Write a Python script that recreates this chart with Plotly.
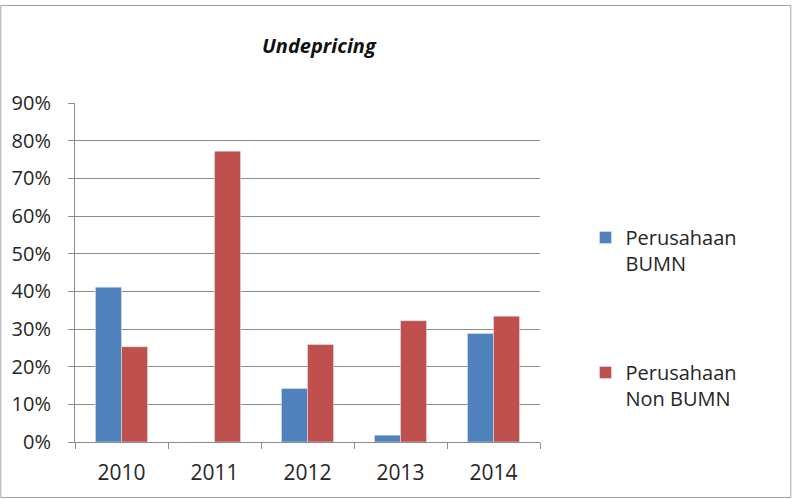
import plotly.graph_objects as go

years = ["2010", "2011", "2012", "2013", "2014"]
bumn = [0.411, 0.0, 0.142, 0.018, 0.288]
non_bumn = [0.253, 0.772, 0.259, 0.322, 0.334]
series_names = ["Perusahaan<br>BUMN", "Perusahaan<br>Non BUMN"]
y_ticks = [0, 0.1, 0.2, 0.3, 0.4, 0.5, 0.6, 0.7, 0.8, 0.9]
y_labels = ["0%", "10%", "20%", "30%", "40%", "50%", "60%", "70%", "80%", "90%"]

W, H = 801, 499
L, R, T, B = 70, 261, 103, 57
pw, ph = W - L - R, H - T - B

fig = go.Figure()
fig.add_trace(go.Bar(x=years, y=bumn, name=series_names[0], marker_color="#4F81BD",
                     legendgroup="a"))
fig.add_trace(go.Bar(x=years, y=non_bumn, name=series_names[1], marker_color="#C0504D",
                     legendgroup="b"))

font = "'Open Sans', sans-serif"
fig.update_layout(
    width=W, height=H,
    margin=dict(l=L, r=R, t=T, b=B, pad=0),
    paper_bgcolor="white", plot_bgcolor="white",
    barmode="group", bargap=0.44, bargroupgap=0,
    title=dict(text="<b><i>Undepricing</i></b>", x=(316.5 - L) / pw, xref="paper", xanchor="center",
               y=1 - 46 / H, yanchor="middle", font=dict(family=font, size=20, color="#111")),
    font=dict(family=font, size=20, color="#262626"),
    legend=dict(x=(586 - L) / pw, xanchor="left", y=(442 - 230 + 12) / ph, yanchor="top",
                tracegroupgap=80, font=dict(size=20, color="#262626"), valign="top"),
    showlegend=True,
)
fig.update_yaxes(range=[0, 0.9], tickvals=y_ticks, ticktext=y_labels,
                 showgrid=True, gridcolor="#8c8c8c", gridwidth=1,
                 showline=True, linecolor="#8c8c8c", linewidth=1,
                 ticks="outside", ticklen=6, tickcolor="#8c8c8c", zeroline=False,
                 ticklabelstandoff=13, tickfont=dict(size=20))
fig.update_xaxes(type="category", showline=True, linecolor="#8c8c8c", linewidth=1,
                 ticks="outside", ticklen=6, tickcolor="#8c8c8c", tickson="boundaries",
                 showgrid=False, ticklabelstandoff=12, tickfont=dict(size=21))

fig.add_shape(type="rect", xref="paper", yref="paper",
              x0=(-5 - L) / pw, x1=(793.5 - L) / pw,
              y0=(H - B - 497.5) / ph, y1=(H - B - 5.5) / ph,
              line=dict(color="#a6a6a6", width=1), fillcolor="rgba(0,0,0,0)", layer="below")

fig.write_html("out.html")
